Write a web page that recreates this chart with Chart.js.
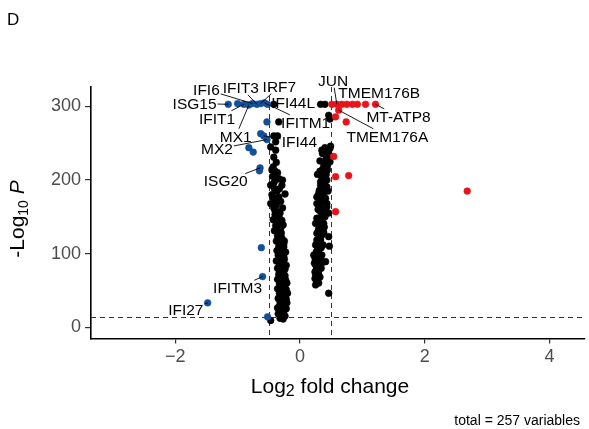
<!DOCTYPE html>
<html><head><meta charset="utf-8">
<script src="https://cdn.jsdelivr.net/npm/chart.js@4.4.1/dist/chart.umd.min.js"></script>
<style>html,body{margin:0;padding:0;background:#fff}#wrap{width:589px;height:429px;position:relative}</style>
</head><body><div id="wrap"><canvas id="c" width="589" height="429"></canvas></div>
<script>
// ---- data: [log2FC, -log10 P] ----
const nsLeft = [
[-0.42,303],[-0.34,279],[-0.42,260],[-0.36,260],[-0.47,245],[-0.39,240.6],[-0.45,214],[-0.40,212],[-0.36,210],[-0.34,202],
[-0.39,200],[-0.28,200],[-0.47,193],[-0.42,196],[-0.24,181],[-0.34,177],[-0.39,173],[-0.47,168],[-0.42,162],[-0.38,166],
[-0.36,157],[-0.33,148],[-0.36,141],[-0.31,134],[-0.34,128],[-0.29,121],[-0.31,114],[-0.26,109],[-0.30,100],[-0.26,96],
[-0.28,89],[-0.30,82],[-0.26,76],[-0.33,69],[-0.28,62],[-0.30,55],[-0.26,48],[-0.31,42],[-0.28,35],[-0.33,28],
[-0.26,21],[-0.30,17],[-0.47,9],
[-0.44,205],[-0.41,188],[-0.45,180],[-0.37,185],[-0.43,176],[-0.40,153],[-0.43,146],[-0.39,138],[-0.41,131],[-0.36,124],
[-0.38,117],[-0.34,110],[-0.37,104],[-0.35,98],[-0.32,93],[-0.38,90],[-0.33,86],[-0.36,80],[-0.31,77],[-0.34,72],
[-0.24,70],[-0.36,65],[-0.23,64],[-0.33,59],[-0.24,57],[-0.36,52],[-0.22,51],[-0.33,46],[-0.24,44],[-0.35,39],
[-0.22,38],[-0.32,33],[-0.24,31],[-0.36,26],[-0.22,25],[-0.31,23],[-0.35,18],[-0.24,15],[-0.32,12],[-0.27,11],
[-0.29,145],[-0.27,139],[-0.30,128],[-0.25,117],[-0.28,106],[-0.23,102],[-0.25,92],[-0.22,84],[-0.24,79],[-0.27,68],
[-0.21,60],[-0.27,52],[-0.20,46],[-0.28,42],[-0.21,33],[-0.26,28],[-0.29,24],[-0.26,113],[-0.32,119],[-0.35,132],
[-0.32,155],[-0.28,162],[-0.40,158],[-0.33,188],[-0.29,193],[-0.31,171],[-0.43,218],[-0.38,224],[-0.42,231],[-0.39,252]
];
const nsRight = [
[0.33,303],[0.40,303],[0.46,288],[0.48,283],[0.49,246],[0.35,240.5],[0.48,243],[0.47,234],[0.38,222.5],[0.48,224.7],
[0.41,209],[0.28,207.6],[0.42,207.6],[0.35,203.5],[0.43,200],[0.33,197.5],[0.33,193],[0.41,191],[0.43,190.8],[0.27,177],
[0.38,182],[0.30,181.8],[0.35,173],[0.41,175],[0.43,168],[0.27,168],[0.30,166],[0.43,163.6],[0.41,159],[0.33,157],
[0.38,157],[0.30,148],[0.27,148],[0.25,141],[0.38,141],[0.35,134],[0.30,134],[0.27,127.5],[0.35,125],[0.46,123],
[0.33,118.5],[0.27,118.5],[0.25,111.7],[0.37,111.7],[0.47,110],[0.30,105],[0.28,105],[0.22,98],[0.35,98],[0.33,93.6],
[0.27,91.3],[0.41,89],[0.25,84.5],[0.33,84.5],[0.30,77.7],[0.26,77.7],[0.25,71],[0.30,71],[0.27,62],[0.27,64],
[0.25,57.4],[0.46,46],
[0.36,236],[0.42,229],[0.32,226],[0.37,216],[0.44,214],[0.32,212],[0.39,195],[0.36,187],[0.31,186],[0.38,170],
[0.33,162],[0.36,152],[0.40,150],[0.32,144],[0.34,138],[0.39,136],[0.29,130],[0.38,129],[0.32,122],[0.30,114],
[0.34,108],[0.26,102],[0.31,99],[0.29,95],[0.24,94],[0.30,88],[0.36,88],[0.23,87],[0.28,82],[0.34,80],
[0.24,75],[0.29,74],[0.32,68],[0.24,66],[0.30,60],[0.40,244],[0.45,238],[0.44,220],[0.39,203],[0.36,198],
[0.45,185],[0.38,176],[0.32,170],[0.46,155],[0.29,160]
];
const downPts = [
[-1.15,303],[-1.00,304],[-0.90,303],[-0.82,302],[-0.76,304],[-0.69,303],[-0.63,304],[-0.57,305],[-0.52,303],
[-0.53,279],[-0.63,263],[-0.58,260],[-0.53,255],[-0.82,244],[-0.75,238],[-0.64,216.5],[-0.65,212.5],
[-0.62,108],[-0.60,68.7],[-1.48,33],[-0.52,14]
];
const upPts = [
[0.51,303],[0.59,303],[0.67,303],[0.75,303],[0.84,303],[0.92,303],[1.05,303],[1.21,303],
[0.62,295],[0.57,286],[0.74,279],[0.54,232],[0.57,204.5],[0.78,206],[0.57,157],[2.68,185]
];
const xTicks = [-2, 0, 2, 4];
const yTicks = [0, 100, 200, 300];
const fcCutoff = 0.5;
const pCutoff = 13.6;
// labels: name, text centre [x,y] in data units, labelled point [x,y]
const labelNames = ['ISG15','IFI6','IFIT3','IRF7','IFI44L','IFIT1','MX1','MX2','IFITM1','IFI44','ISG20','IFITM3','IFI27','JUN','TMEM176B','MT-ATP8','TMEM176A'];
const labelPos = [[-1.69,304],[-1.50,323],[-0.95,326],[-0.33,327.5],[-0.11,305.7],[-1.33,284],[-1.03,259.5],[-1.33,242],[0.09,278.5],[-0.01,251.5],[-1.19,198.5],[-1.00,53.4],[-1.83,23.5],[0.53,335.7],[1.27,319],[1.58,286.6],[1.40,259.5]];
const labelTarget = [[-1.15,303],[-0.76,304],[-0.69,303],[-0.63,304],[-0.52,303],[-0.90,303],[-0.82,302],[-0.53,255],[-0.57,305],[-0.58,260],[-0.64,216.5],[-0.60,68.7],[-1.48,33],[0.59,303],null,[1.21,303],[0.62,295]];

const FONT = "'Liberation Sans', Arial, Helvetica, sans-serif";
const toXY = a => a.map(([x,y]) => ({x, y}));

const annot = {
  id: 'annot',
  beforeDatasetsDraw(chart) {
    const {ctx, chartArea: ca, scales: {x, y}} = chart;
    ctx.save();
    ctx.strokeStyle = '#333';
    ctx.lineWidth = 1;
    ctx.setLineDash([5, 4]);
    [-fcCutoff, fcCutoff].forEach(v => {
      const px = Math.round(x.getPixelForValue(v)) + 0.5;
      ctx.beginPath(); ctx.moveTo(px, ca.top); ctx.lineTo(px, ca.bottom); ctx.stroke();
    });
    const py = Math.round(y.getPixelForValue(pCutoff)) + 0.5;
    ctx.beginPath(); ctx.moveTo(ca.left, py); ctx.lineTo(ca.right, py); ctx.stroke();
    ctx.restore();
  },
  afterDatasetsDraw(chart) {
    const {ctx, scales: {x, y}} = chart;
    ctx.save();
    ctx.font = '15.5px ' + FONT;
    ctx.fillStyle = '#000';
    ctx.strokeStyle = '#000';
    ctx.lineWidth = 0.9;
    ctx.textAlign = 'center';
    ctx.textBaseline = 'middle';
    labelNames.forEach((name, i) => {
      const cx = x.getPixelForValue(labelPos[i][0]);
      const cy = y.getPixelForValue(labelPos[i][1]);
      const w = ctx.measureText(name).width + 2, h = 15;
      const t = labelTarget[i];
      if (t) {
        const px = x.getPixelForValue(t[0]), py = y.getPixelForValue(t[1]);
        const dx = cx - px, dy = cy - py;
        let s = 1;
        if (Math.abs(dx) > 1e-6) s = Math.min(s, Math.max(0, (Math.abs(dx) - w / 2) / Math.abs(dx)));
        let s2 = 1;
        if (Math.abs(dy) > 1e-6) s2 = Math.min(s2, Math.max(0, (Math.abs(dy) - h / 2) / Math.abs(dy)));
        const k = Math.max(s, s2);
        const ex = px + dx * k, ey = py + dy * k;
        const len = Math.hypot(ex - px, ey - py);
        if (len > 3) {
          ctx.beginPath(); ctx.moveTo(px, py); ctx.lineTo(ex, ey); ctx.stroke();
        }
      }
      ctx.fillText(name, cx, cy + 1);
    });
    ctx.restore();
  },
  afterDraw(chart) {
    const {ctx} = chart;
    ctx.save();
    ctx.fillStyle = '#000';
    ctx.textBaseline = 'alphabetic';
    ctx.font = '17px ' + FONT;
    ctx.textAlign = 'left';
    ctx.fillText('D', 7, 25);
    ctx.font = '14px ' + FONT;
    ctx.textAlign = 'right';
    ctx.fillText('total = 257 variables', 580, 425);
    const big = '21px ' + FONT, small = '16px ' + FONT;
    ctx.textAlign = 'left';
    ctx.font = big; const w1 = ctx.measureText('Log').width;
    ctx.font = small; const w2 = ctx.measureText('2').width;
    ctx.font = big; const w3 = ctx.measureText(' fold change').width;
    let sx = 330 - (w1 + w2 + w3) / 2, by = 393;
    ctx.font = big; ctx.fillText('Log', sx, by);
    ctx.font = small; ctx.fillText('2', sx + w1, by + 3);
    ctx.font = big; ctx.fillText(' fold change', sx + w1 + w2, by);
    ctx.translate(24, 219);
    ctx.rotate(-Math.PI / 2);
    ctx.font = big; const a1 = ctx.measureText('-Log').width;
    ctx.font = '14px ' + FONT; const a2 = ctx.measureText('10').width;
    ctx.font = big; const a3 = ctx.measureText(' ').width;
    ctx.font = 'italic 21px ' + FONT; const a4 = ctx.measureText('P').width;
    let tx = -(a1 + a2 + a3 + a4) / 2;
    ctx.font = big; ctx.fillText('-Log', tx, 0);
    ctx.font = '14px ' + FONT; ctx.fillText('10', tx + a1, 4);
    ctx.font = 'italic 21px ' + FONT; ctx.fillText('P', tx + a1 + a2 + a3, 0);
    ctx.restore();
  }
};

const tickFont = {family: FONT, size: 18};
new Chart(document.getElementById('c'), {
  type: 'scatter',
  data: {
    datasets: [
      {data: toXY(upPts), backgroundColor: '#e8141b', borderColor: '#e8141b', borderWidth: 0.5, pointRadius: 3.4},
      {data: toXY(downPts), backgroundColor: '#13509a', borderColor: '#13509a', borderWidth: 0.5, pointRadius: 3.4},
      {data: toXY(nsLeft.concat(nsRight)), backgroundColor: '#000', borderColor: '#000', borderWidth: 0.5, pointRadius: 3.4}
    ]
  },
  options: {
    responsive: false,
    animation: false,
    events: [],
    layout: {padding: {top: 87, right: 3, left: 0, bottom: 0}},
    plugins: {legend: {display: false}, tooltip: {enabled: false}},
    scales: {
      x: {
        type: 'linear', min: -3.35, max: 4.56,
        afterBuildTicks: s => { s.ticks = xTicks.map(v => ({value: v})); },
        afterFit: s => { s.height = 429 - 338.5; },
        ticks: {color: '#4d4d4d', font: tickFont, padding: 3, maxRotation: 0,
          callback: v => (v < 0 ? '\u2212' : '') + Math.abs(v)},
        grid: {display: true, drawOnChartArea: false, drawTicks: true, tickLength: 5, color: '#333', lineWidth: 1.2},
        border: {display: true, color: '#000', width: 1.6}
      },
      y: {
        type: 'linear', min: -15.5, max: 326.5,
        afterBuildTicks: s => { s.ticks = yTicks.map(v => ({value: v})); },
        afterFit: s => { s.width = 91; },
        ticks: {color: '#4d4d4d', font: tickFont, padding: 4},
        grid: {display: true, drawOnChartArea: false, drawTicks: true, tickLength: 6, color: '#333', lineWidth: 1.2},
        border: {display: true, color: '#000', width: 1.6}
      }
    }
  },
  plugins: [annot]
});
</script></body></html>
